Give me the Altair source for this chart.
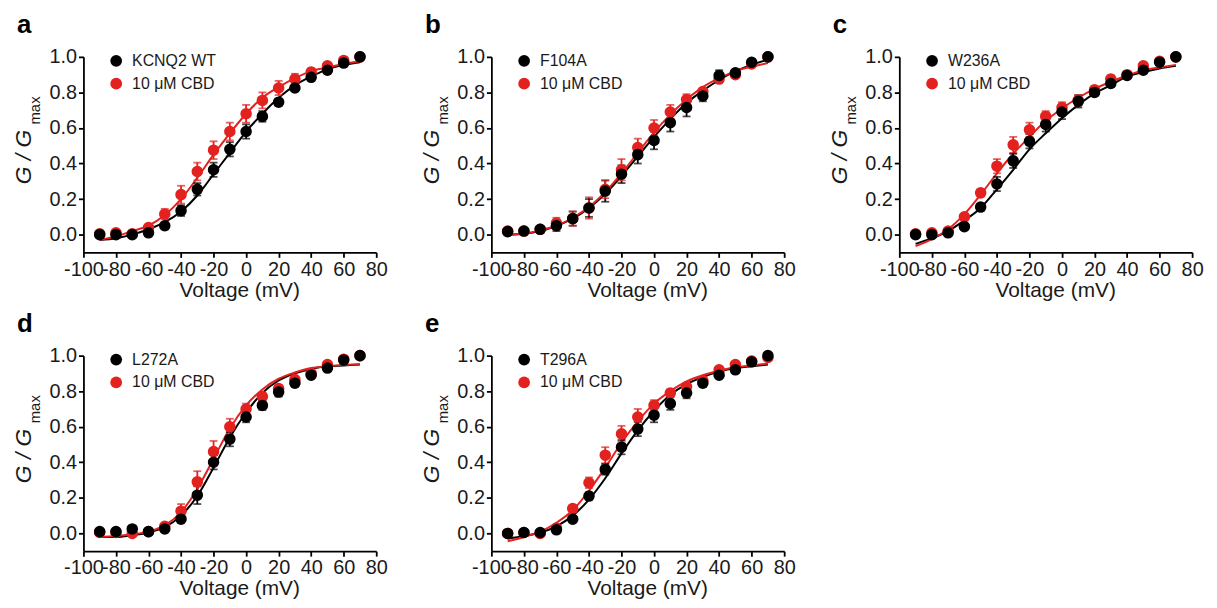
import altair as alt
import pandas as pd

FONT = "Liberation Sans"
BLACK = "#000000"
RED = "#E3211E"
TEXT = "#1a1a1a"

voltages = [-90, -80, -70, -60, -50, -40, -30, -20, -10, 0, 10, 20, 30, 40, 50, 60, 70]
x_ticks = [-100, -80, -60, -40, -20, 0, 20, 40, 60, 80]
y_ticks = [0.0, 0.2, 0.4, 0.6, 0.8, 1.0]
cbd_label = "10 μM CBD"

letters = ["a", "b", "c", "d", "e"]
construct_labels = ["KCNQ2 WT", "F104A", "W236A", "L272A", "T296A"]

# panel a
a_ctrl = [0.0, 0.0, 0.0, 0.01, 0.05, 0.135, 0.255, 0.365, 0.48, 0.58, 0.665, 0.745, 0.825, 0.885, 0.925, 0.965, 1.0]
a_ctrl_err = [0, 0, 0, 0.01, 0.02, 0.03, 0.035, 0.04, 0.04, 0.04, 0.03, 0.02, 0.015, 0.01, 0.01, 0.01, 0]
a_cbd = [0.005, 0.01, 0.005, 0.04, 0.115, 0.225, 0.355, 0.475, 0.58, 0.68, 0.755, 0.825, 0.875, 0.915, 0.95, 0.98, 1.0]
a_cbd_err = [0, 0, 0, 0.01, 0.03, 0.05, 0.05, 0.05, 0.05, 0.05, 0.045, 0.04, 0.03, 0.02, 0.01, 0.01, 0]
a_fit_ctrl = [-0.03, -0.02, 0.0, 0.03, 0.07, 0.13, 0.22, 0.34, 0.46, 0.58, 0.68, 0.77, 0.84, 0.89, 0.93, 0.955, 0.97]
a_fit_cbd = [-0.03, -0.01, 0.02, 0.05, 0.11, 0.20, 0.32, 0.45, 0.57, 0.68, 0.77, 0.83, 0.88, 0.92, 0.94, 0.96, 0.975]

# panel b
b_ctrl = [0.017, 0.02, 0.03, 0.05, 0.09, 0.15, 0.245, 0.34, 0.45, 0.53, 0.63, 0.715, 0.78, 0.895, 0.91, 0.97, 1.0]
b_ctrl_err = [0, 0, 0, 0.03, 0.04, 0.05, 0.06, 0.05, 0.05, 0.05, 0.05, 0.05, 0.03, 0.03, 0.01, 0.01, 0]
b_cbd = [0.02, 0.02, 0.03, 0.065, 0.09, 0.15, 0.255, 0.365, 0.49, 0.6, 0.69, 0.76, 0.805, 0.875, 0.9, 0.96, 1.0]
b_cbd_err = [0, 0, 0, 0.03, 0.04, 0.06, 0.05, 0.06, 0.05, 0.045, 0.04, 0.03, 0.02, 0.02, 0.01, 0, 0]
b_fit_ctrl = [0.0, 0.005, 0.02, 0.05, 0.09, 0.15, 0.23, 0.33, 0.44, 0.55, 0.65, 0.74, 0.81, 0.87, 0.92, 0.955, 0.985]
b_fit_cbd = [0.0, 0.005, 0.025, 0.05, 0.095, 0.155, 0.24, 0.345, 0.46, 0.575, 0.675, 0.76, 0.83, 0.88, 0.92, 0.945, 0.965]

# panel c
c_ctrl = [0.0, 0.0, 0.01, 0.045, 0.155, 0.285, 0.415, 0.525, 0.62, 0.69, 0.75, 0.8, 0.85, 0.895, 0.925, 0.97, 1.0]
c_ctrl_err = [0, 0, 0, 0, 0.02, 0.04, 0.04, 0.04, 0.04, 0.04, 0.035, 0.02, 0.02, 0.01, 0, 0, 0]
c_cbd = [0.005, 0.01, 0.02, 0.1, 0.235, 0.385, 0.505, 0.59, 0.665, 0.715, 0.755, 0.815, 0.875, 0.9, 0.95, 0.975, 1.0]
c_cbd_err = [0, 0, 0, 0, 0.02, 0.04, 0.045, 0.04, 0.03, 0.03, 0.03, 0.02, 0.02, 0, 0, 0, 0]
c_fit_ctrl = [-0.052, -0.02, 0.02, 0.08, 0.15, 0.255, 0.365, 0.48, 0.57, 0.655, 0.73, 0.795, 0.84, 0.89, 0.915, 0.935, 0.95]
c_fit_cbd = [-0.065, -0.025, 0.03, 0.115, 0.225, 0.345, 0.455, 0.55, 0.64, 0.71, 0.77, 0.82, 0.86, 0.895, 0.925, 0.94, 0.955]

# panel d
d_ctrl = [0.01, 0.01, 0.025, 0.01, 0.025, 0.08, 0.215, 0.4, 0.53, 0.655, 0.72, 0.795, 0.845, 0.89, 0.93, 0.975, 1.0]
d_ctrl_err = [0, 0, 0, 0, 0, 0.02, 0.05, 0.04, 0.04, 0.03, 0.025, 0.025, 0.02, 0.01, 0, 0, 0]
d_cbd = [0.005, 0.005, 0.0, 0.01, 0.04, 0.125, 0.29, 0.46, 0.6, 0.7, 0.77, 0.815, 0.865, 0.9, 0.95, 0.98, 1.0]
d_cbd_err = [0, 0, 0, 0, 0, 0.04, 0.06, 0.06, 0.045, 0.03, 0.02, 0.02, 0, 0, 0, 0, 0]
d_fit_ctrl = [-0.02, -0.02, -0.01, 0.005, 0.035, 0.1, 0.21, 0.37, 0.54, 0.68, 0.79, 0.86, 0.9, 0.925, 0.94, 0.945, 0.95]
d_fit_cbd = [-0.02, -0.015, -0.005, 0.01, 0.045, 0.12, 0.25, 0.42, 0.59, 0.72, 0.81, 0.87, 0.905, 0.93, 0.94, 0.948, 0.952]

# panel e
e_ctrl = [0.0, 0.005, 0.005, 0.02, 0.08, 0.21, 0.36, 0.485, 0.587, 0.665, 0.73, 0.79, 0.845, 0.89, 0.92, 0.965, 1.0]
e_ctrl_err = [0, 0, 0, 0, 0, 0.02, 0.03, 0.04, 0.04, 0.04, 0.035, 0.03, 0.02, 0, 0, 0, 0]
e_cbd = [0.0, 0.005, 0.0, 0.03, 0.14, 0.285, 0.44, 0.56, 0.655, 0.72, 0.79, 0.825, 0.86, 0.92, 0.95, 0.97, 0.99]
e_cbd_err = [0, 0, 0, 0, 0.02, 0.03, 0.045, 0.045, 0.045, 0.03, 0.02, 0.02, 0, 0, 0, 0, 0]
e_fit_ctrl = [-0.03, -0.015, 0.005, 0.04, 0.1, 0.19, 0.31, 0.45, 0.58, 0.69, 0.78, 0.84, 0.88, 0.91, 0.93, 0.94, 0.95]
e_fit_cbd = [-0.045, -0.02, 0.01, 0.06, 0.13, 0.24, 0.37, 0.51, 0.63, 0.73, 0.8, 0.855, 0.89, 0.915, 0.935, 0.945, 0.955]

panel_data = [
    (a_ctrl, a_ctrl_err, a_cbd, a_cbd_err, a_fit_ctrl, a_fit_cbd),
    (b_ctrl, b_ctrl_err, b_cbd, b_cbd_err, b_fit_ctrl, b_fit_cbd),
    (c_ctrl, c_ctrl_err, c_cbd, c_cbd_err, c_fit_ctrl, c_fit_cbd),
    (d_ctrl, d_ctrl_err, d_cbd, d_cbd_err, d_fit_ctrl, d_fit_cbd),
    (e_ctrl, e_ctrl_err, e_cbd, e_cbd_err, e_fit_ctrl, e_fit_cbd),
]

W, H = 295, 197

X_AXIS = alt.Axis(values=x_ticks, title="Voltage (mV)", titleX=157, titleY=44,
                  titleBaseline="alphabetic", labelOverlap=False, labelFlush=False,
                  labelExpr="replace(datum.label, '\u2212', '-')")
Y_AXIS = alt.Axis(values=y_ticks, format=".1f", title=None, labelOverlap=False, labelFlush=False)


def make_panel(letter, label, ctrl, ctrl_err, cbd, cbd_err, fit_ctrl, fit_cbd):
    rows = []
    fits = []
    for ser, vals, errs, fit in [(label, ctrl, ctrl_err, fit_ctrl), (cbd_label, cbd, cbd_err, fit_cbd)]:
        for v, g, e, f in zip(voltages, vals, errs, fit):
            rows.append({"V": v, "G": g, "lo": g - e, "hi": g + e, "err": e, "series": ser})
            fits.append({"V": v, "G": f, "series": ser})
    pts = pd.DataFrame(rows)
    fit_df = pd.DataFrame(fits)
    caps = pd.concat([
        pts[pts.err > 0].assign(cap=pts.lo),
        pts[pts.err > 0].assign(cap=pts.hi),
    ])

    xs = alt.Scale(domain=[-100, 80], nice=False, zero=False)
    ys = alt.Scale(domain=[-0.1, 1.0], nice=False, zero=False)
    cs = alt.Scale(domain=[label, cbd_label], range=[BLACK, RED])

    def X(f):
        return alt.X(f, scale=xs, axis=X_AXIS)

    def Y(f):
        return alt.Y(f, scale=ys, axis=Y_AXIS)

    col = alt.Color("series:N", scale=cs, legend=None)

    lines = alt.Chart(fit_df).mark_line(strokeWidth=2, interpolate="monotone", clip=False).encode(
        x=X("V:Q"), y=Y("G:Q"), color=col, detail="series:N",
    )
    bars = alt.Chart(pts[pts.err > 0]).mark_rule(strokeWidth=1.8).encode(
        x=X("V:Q"), y=Y("lo:Q"), y2="hi:Q", color=col,
    )
    capmarks = alt.Chart(caps).mark_tick(orient="horizontal", size=8, thickness=1.8).encode(
        x=X("V:Q"), y=Y("cap:Q"), color=col,
    )
    points = alt.Chart(pts).mark_circle(size=135, opacity=1).encode(
        x=X("V:Q"), y=Y("G:Q"), color=col,
        order=alt.Order("series:N", sort="ascending"),
    )
    lab = pd.DataFrame({"t": [letter], "g": ["G / G"], "m": ["max"], "l1": [label], "l2": [cbd_label]})
    letter_mark = alt.Chart(lab).mark_text(
        font=FONT, fontSize=26, fontWeight="bold", align="left", baseline="alphabetic", color=BLACK
    ).encode(x=alt.value(-67), y=alt.value(-24), text="t:N")
    ytitle = alt.Chart(lab).mark_text(
        font=FONT, fontSize=23, fontStyle="italic", angle=270, align="center",
        baseline="alphabetic", color=TEXT
    ).encode(x=alt.value(-53), y=alt.value(101), text="g:N")
    ysub = alt.Chart(lab).mark_text(
        font=FONT, fontSize=15, angle=270, align="center", baseline="alphabetic", color=TEXT
    ).encode(x=alt.value(-44), y=alt.value(54), text="m:N")
    # legend (drawn as marks)
    leg_dot1 = alt.Chart(lab).mark_circle(size=140, opacity=1, color=BLACK).encode(
        x=alt.value(33), y=alt.value(4))
    leg_dot2 = alt.Chart(lab).mark_circle(size=140, opacity=1, color=RED).encode(
        x=alt.value(33), y=alt.value(27))
    leg_t1 = alt.Chart(lab).mark_text(
        font=FONT, fontSize=16, align="left", baseline="middle", color=TEXT
    ).encode(x=alt.value(49), y=alt.value(4), text="l1:N")
    leg_t2 = alt.Chart(lab).mark_text(
        font=FONT, fontSize=16, align="left", baseline="middle", color=TEXT
    ).encode(x=alt.value(49), y=alt.value(27), text="l2:N")

    return alt.layer(lines, bars, capmarks, points, letter_mark, ytitle, ysub,
                     leg_dot1, leg_dot2, leg_t1, leg_t2).properties(width=W, height=H)


charts = [make_panel(letters[i], construct_labels[i], *panel_data[i]) for i in range(5)]

row1 = alt.hconcat(*charts[:3], spacing=33).resolve_scale(color="independent")
row2 = alt.hconcat(*charts[3:], spacing=33).resolve_scale(color="independent")
chart = alt.vconcat(row1, row2, spacing=11).resolve_scale(color="independent").properties(
    padding={"left": 5, "top": 2, "right": 5, "bottom": 5}
).configure_axis(
    grid=False, domainColor=BLACK, domainWidth=1.8, tickColor=BLACK, tickWidth=1.8, tickSize=5,
    labelFont=FONT, labelFontSize=20, labelColor=TEXT, labelPadding=2, labelOverlap=False,
    titleFont=FONT, titleFontSize=21, titleColor=TEXT, titleFontWeight="normal",
).configure_view(stroke=None)

chart.save("out.html", embed_options={"renderer": "svg", "actions": False})
